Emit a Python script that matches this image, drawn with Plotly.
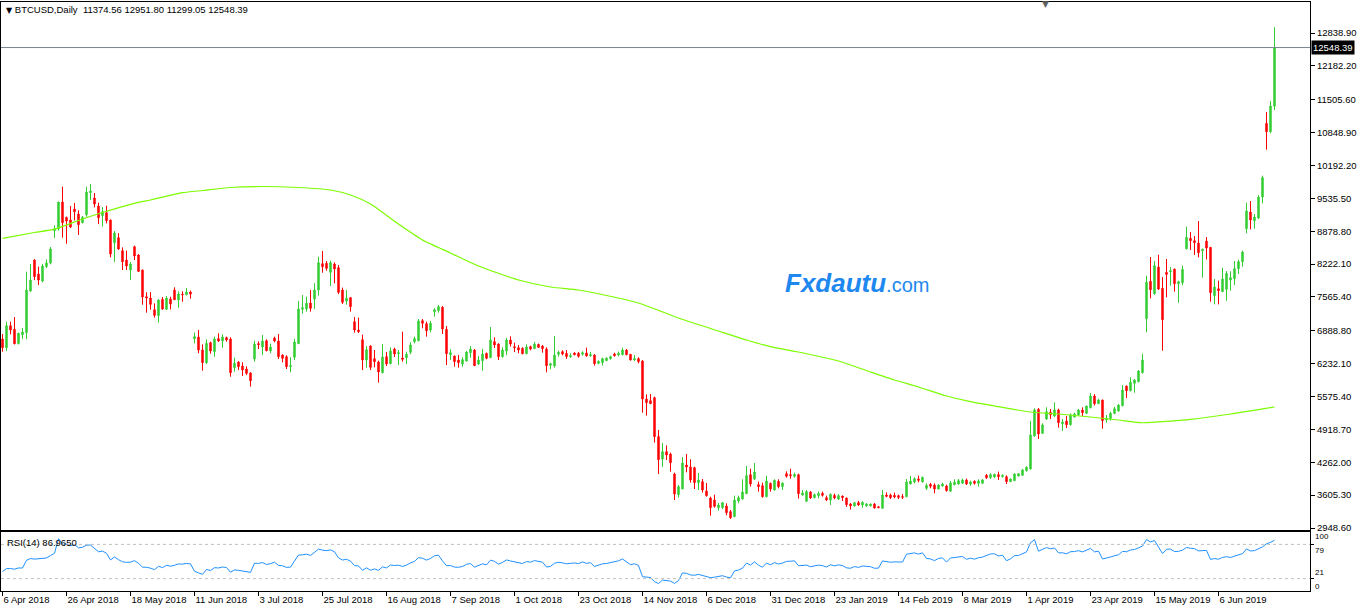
import plotly.graph_objects as go

# ---------------- data ----------------
opens = [6724, 6551, 6991, 6918, 6631, 6811, 6851, 7683, 8303, 8023, 7883, 8170, 8243, 8889, 8922, 9462, 9155, 9102, 9322, 9222,
         9049, 9209, 9648, 9542, 9382, 9189, 9249, 9102, 8649, 8749, 8489, 8303, 8103, 8569, 8403, 8103, 7570, 7544, 7310, 7191,
         7517, 7317, 7524, 7703, 7504, 7623, 7610, 7663, 6732, 6765, 6505, 6252, 6652, 6472, 6732, 6685, 6752, 6725, 6152, 6265,
         6186, 6126, 6046, 6325, 6632, 6565, 6692, 6485, 6745, 6685, 6405, 6372, 6172, 6359, 6632, 7318, 7324, 7444, 7524, 7704,
         8230, 8237, 8057, 8223, 8150, 7704, 7484, 7551, 7071, 6905, 6712, 6305, 6585, 6332, 6265, 6052, 6372, 6232, 6525, 6432,
         6345, 6352, 6459, 6672, 6692, 7091, 7031, 6905, 7271, 7291, 7358, 6918, 6412, 6385, 6305, 6225, 6285, 6452, 6505, 6225,
         6292, 6439, 6352, 6672, 6625, 6372, 6485, 6705, 6572, 6552, 6538, 6432, 6572, 6532, 6618, 6585, 6525, 6199, 6186, 6419,
         6472, 6439, 6372, 6445, 6439, 6419, 6445, 6392, 6405, 6239, 6252, 6292, 6332, 6425, 6405, 6412, 6505, 6419, 6305, 6332,
         6285, 5526, 5493, 5553, 4774, 4327, 4474, 4427, 4028, 3615, 3728, 4207, 4168, 4154, 3855, 3874, 3688, 3548, 3508, 3355,
         3355, 3388, 3275, 3175, 3488, 3528, 3635, 4014, 3928, 3815, 3795, 3575, 3841, 3708, 3881, 3775, 4034, 4014, 3981, 4014,
         3608, 3482, 3668, 3555, 3595, 3641, 3555, 3508, 3601, 3528, 3588, 3548, 3428, 3389, 3455, 3408, 3389, 3389, 3428, 3375,
         3342, 3608, 3608, 3602, 3595, 3575, 3575, 3828, 3868, 3928, 3868, 3741, 3821, 3808, 3728, 3788, 3788, 3682, 3815, 3828,
         3841, 3908, 3828, 3881, 3841, 3841, 4001, 3955, 3968, 4015, 3975, 3975, 3875, 3895, 3988, 4001, 4094, 4128, 4787, 5320,
         4840, 5127, 5260, 5187, 5307, 5033, 5086, 5013, 5166, 5206, 5306, 5239, 5352, 5586, 5432, 5506, 5106, 5133, 5239, 5286,
         5392, 5785, 5692, 5839, 5872, 6052, 7131, 7877, 7630, 8163, 7737, 8056, 8070, 8123, 7830, 7850, 8529, 8736, 8689, 8642,
         8489, 8682, 8556, 7590, 7730, 7670, 7717, 7903, 7930, 8130, 8269, 8929, 9262, 9089, 9142, 9562, 11033, 10867, 11374.56]
highs = [6824, 7071, 7071, 7164, 6851, 6944, 8070, 8223, 8316, 8170, 8223, 8316, 8563, 8995, 9462, 9768, 9169, 9382, 9442, 9295,
         9182, 9768, 9821, 9641, 9448, 9362, 9388, 9110, 8882, 8842, 8556, 8489, 8263, 8589, 8423, 8110, 7657, 7663, 7437, 7517,
         7564, 7584, 7570, 7757, 7677, 7677, 7743, 7690, 6852, 6905, 6618, 6718, 6672, 6772, 6838, 6818, 6772, 6758, 6352, 6279,
         6259, 6179, 6059, 6692, 6678, 6805, 6718, 6632, 6772, 6825, 6419, 6399, 6359, 6725, 7484, 7604, 7571, 7704, 7837, 8370,
         8483, 8283, 8290, 8257, 8203, 7751, 7704, 7564, 7165, 7151, 6812, 6585, 6598, 6505, 6292, 6625, 6465, 6558, 6552, 6505,
         6871, 6472, 6658, 6772, 7125, 7125, 7071, 7085, 7338, 7404, 7384, 6985, 6519, 6392, 6405, 6359, 6485, 6585, 6525, 6385,
         6525, 6452, 6965, 6758, 6638, 6558, 6745, 6778, 6652, 6605, 6558, 6618, 6592, 6665, 6632, 6605, 6558, 6252, 6785, 6492,
         6499, 6505, 6439, 6459, 6465, 6479, 6552, 6465, 6419, 6299, 6352, 6352, 6392, 6452, 6472, 6552, 6525, 6425, 6405, 6359,
         6305, 5619, 5626, 5573, 4907, 4647, 4600, 4454, 4054, 3808, 4367, 4427, 4321, 4174, 4048, 3928, 3848, 3575, 3615, 3448,
         3468, 3442, 3308, 3595, 3595, 3921, 4188, 4134, 4247, 3874, 3855, 3994, 3855, 3921, 3921, 3855, 4081, 4134, 4054, 4034,
         3708, 3708, 3688, 3641, 3681, 3675, 3595, 3641, 3635, 3628, 3595, 3555, 3448, 3468, 3488, 3482, 3448, 3435, 3448, 3382,
         3708, 3662, 3635, 3655, 3615, 3628, 3928, 3988, 3961, 3995, 3975, 3841, 3848, 3841, 3821, 3855, 3815, 3888, 3921, 3928,
         3935, 3935, 3895, 3901, 3921, 3928, 4028, 4041, 4035, 4074, 4021, 4001, 3935, 4041, 4041, 4128, 4181, 5087, 5340, 5347,
         5040, 5360, 5327, 5460, 5333, 5126, 5186, 5239, 5253, 5326, 5359, 5392, 5645, 5625, 5532, 5510, 5206, 5272, 5372, 5426,
         5805, 5792, 5958, 5925, 6105, 6431, 7990, 8363, 8283, 8409, 7963, 8323, 8163, 8130, 7890, 8190, 8969, 8862, 8782, 9082,
         8529, 8762, 8560, 7923, 7890, 8150, 8083, 8076, 8283, 8309, 8489, 9448, 9482, 9222, 9601, 9988, 11260, 11480, 12951.80]
lows = [6471, 6485, 6818, 6618, 6618, 6724, 6724, 7670, 7903, 7803, 7857, 8143, 8216, 8742, 8889, 8749, 8629, 8942, 9095, 8802,
        9035, 9169, 9502, 9355, 9022, 8969, 9035, 8356, 8263, 8509, 8103, 8103, 7903, 8303, 8063, 7410, 7251, 7310, 7151, 7051,
        7310, 7304, 7317, 7504, 7350, 7470, 7597, 7530, 6638, 6439, 6092, 6225, 6432, 6372, 6665, 6552, 6672, 5972, 6072, 6106,
        5986, 6006, 5773, 6272, 6525, 6405, 6479, 6439, 6658, 6325, 6259, 6126, 6059, 6305, 6632, 7231, 7271, 7271, 7324, 7591,
        8050, 8090, 7784, 7837, 7624, 7424, 7411, 7271, 6852, 6845, 6106, 6152, 6106, 6159, 5853, 6039, 6186, 6219, 6365, 6205,
        6272, 6225, 6419, 6638, 6678, 6938, 6772, 6858, 7171, 7251, 6825, 6205, 6305, 6172, 6152, 6172, 6272, 6352, 6192, 6205,
        6092, 6319, 6352, 6545, 6305, 6352, 6405, 6572, 6465, 6439, 6419, 6419, 6499, 6525, 6552, 6452, 6059, 6119, 6152, 6372,
        6399, 6325, 6345, 6399, 6352, 6392, 6372, 6365, 6192, 6219, 6192, 6292, 6312, 6372, 6379, 6399, 6399, 6299, 6285, 6239,
        5253, 5193, 5426, 4654, 4028, 4168, 4307, 4074, 3508, 3555, 3728, 4061, 3855, 3728, 3708, 3655, 3575, 3195, 3355, 3295,
        3328, 3202, 3129, 3175, 3442, 3515, 3628, 3775, 3908, 3675, 3555, 3561, 3675, 3695, 3741, 3708, 3954, 3934, 3954, 3535,
        3595, 3475, 3528, 3541, 3541, 3575, 3488, 3408, 3522, 3508, 3488, 3369, 3315, 3375, 3389, 3355, 3369, 3382, 3335, 3355,
        3342, 3562, 3528, 3542, 3528, 3528, 3562, 3821, 3841, 3861, 3861, 3708, 3741, 3642, 3722, 3775, 3675, 3668, 3801, 3815,
        3828, 3808, 3788, 3815, 3775, 3835, 3928, 3928, 3955, 3908, 3955, 3828, 3870, 3890, 3981, 3988, 4074, 4120, 4774, 4727,
        4827, 5107, 5127, 5167, 4954, 4886, 4946, 4993, 5159, 5193, 5186, 5226, 5339, 5399, 5426, 4933, 5053, 5093, 5219, 5272,
        5379, 5546, 5679, 5652, 5859, 6038, 6858, 7537, 7610, 7703, 6491, 7557, 7790, 7670, 7450, 7797, 8516, 8503, 8403, 8356,
        7950, 8316, 7470, 7417, 7417, 7663, 7490, 7690, 7803, 8023, 8170, 8836, 8916, 8929, 9122, 9435, 10507, 10834, 11299.05]
closes = [6551, 6991, 6904, 6631, 6838, 6864, 7703, 7903, 7970, 7903, 8183, 8243, 8523, 8922, 9462, 9049, 9082, 8962, 9268, 9009,
          9155, 9661, 9681, 9422, 9149, 9268, 9089, 8423, 8842, 8523, 8269, 8183, 8223, 8383, 8076, 7564, 7544, 7417, 7197, 7504,
          7324, 7544, 7424, 7510, 7623, 7610, 7663, 7623, 6772, 6505, 6252, 6638, 6485, 6725, 6685, 6765, 6705, 6052, 6239, 6172,
          6106, 6039, 5892, 6625, 6612, 6685, 6492, 6565, 6685, 6372, 6339, 6172, 6192, 6665, 7324, 7351, 7438, 7338, 7704, 8250,
          8170, 8137, 8250, 8124, 7657, 7458, 7537, 7371, 6905, 6871, 6305, 6512, 6159, 6272, 6066, 6365, 6225, 6485, 6425, 6452,
          6319, 6419, 6605, 6732, 7085, 7038, 6891, 7038, 7311, 7371, 6925, 6432, 6452, 6272, 6252, 6312, 6465, 6525, 6192, 6305,
          6425, 6339, 6705, 6605, 6372, 6505, 6705, 6625, 6552, 6505, 6432, 6565, 6525, 6625, 6558, 6532, 6192, 6232, 6405, 6459,
          6425, 6372, 6392, 6412, 6379, 6452, 6385, 6412, 6232, 6279, 6332, 6345, 6372, 6392, 6439, 6505, 6412, 6305, 6332, 6272,
          5526, 5453, 5433, 4774, 4314, 4474, 4407, 4254, 3628, 3775, 4247, 4168, 3908, 3855, 3908, 3708, 3595, 3355, 3382, 3408,
          3455, 3255, 3155, 3508, 3555, 3668, 3994, 3828, 4068, 3775, 3575, 3888, 3728, 3901, 3775, 3848, 3981, 3994, 4021, 3635,
          3648, 3675, 3548, 3615, 3641, 3601, 3508, 3621, 3548, 3595, 3555, 3415, 3389, 3455, 3408, 3462, 3428, 3428, 3349, 3355,
          3608, 3582, 3555, 3568, 3562, 3562, 3868, 3888, 3935, 3901, 3961, 3801, 3781, 3728, 3808, 3828, 3695, 3848, 3861, 3895,
          3908, 3828, 3868, 3841, 3888, 3908, 3955, 4015, 4021, 3975, 4001, 3875, 3928, 4028, 4035, 4108, 4161, 4807, 5307, 4827,
          5007, 5273, 5213, 5307, 5054, 5066, 5013, 5206, 5226, 5306, 5253, 5386, 5586, 5432, 5506, 5093, 5139, 5239, 5332, 5406,
          5705, 5692, 5859, 5905, 6085, 6305, 7857, 7710, 8190, 7723, 7111, 8016, 8090, 7830, 7870, 8116, 8756, 8689, 8649, 8449,
          8516, 8543, 7650, 7763, 7690, 7923, 8036, 7950, 8130, 8269, 8463, 9282, 9102, 9162, 9562, 9948, 10867, 11380, 12548.39]

# moving average (green line) read at sample bars
ma_bars = [0, 8, 13, 20, 25, 33, 37, 45, 50, 57, 65, 74, 82, 87, 92, 99, 105, 112, 119, 129, 137, 144, 151, 159, 169,
           179, 186, 192, 199, 209, 217, 223, 229, 236, 242, 249, 257, 264, 272, 279, 285, 292, 297, 307, 318]
ma_values = [8737, 8853, 8919, 9122, 9252, 9436, 9502, 9648, 9692, 9752, 9772, 9752, 9702, 9602, 9422, 9022, 8703, 8443,
             8183, 7904, 7764, 7704, 7594, 7444, 7144, 6884, 6705, 6571, 6465, 6285, 6066, 5906, 5766, 5586, 5472, 5372,
             5266, 5226, 5166, 5106, 5052, 5086, 5120, 5226, 5366]

# RSI of the first bars (read), the rest is RSI(14) of the closes
rsi_head = [33, 38, 38, 37, 39, 39, 52, 55, 54, 55, 55, 56, 60, 64]
rsi_period = 14

date_labels = ["6 Apr 2018", "26 Apr 2018", "18 May 2018", "11 Jun 2018", "3 Jul 2018", "25 Jul 2018",
               "16 Aug 2018", "7 Sep 2018", "1 Oct 2018", "23 Oct 2018", "14 Nov 2018", "6 Dec 2018",
               "31 Dec 2018", "23 Jan 2019", "14 Feb 2019", "8 Mar 2019", "1 Apr 2019", "23 Apr 2019",
               "15 May 2019", "6 Jun 2019"]
bars_per_label = 16

price_ticks = [2948.60, 3605.30, 4262.00, 4918.70, 5575.40, 6232.10, 6888.80, 7565.40, 8222.10,
               8878.80, 9535.50, 10192.20, 10848.90, 11505.60, 12182.20, 12838.90]
rsi_levels = [21, 79]
rsi_scale_ends = [0, 100]
last_price = closes[-1]
header_text = "BTCUSD,Daily\u00a0\u00a011374.56 12951.80 11299.05 12548.39"
rsi_text = "RSI(14) 86.9650"

# ---------------- derived ----------------
n = len(closes)
bar_index = list(range(n))


def wilder_rsi(c, period):
    gains = [max(c[i] - c[i - 1], 0) for i in range(1, len(c))]
    losses = [max(c[i - 1] - c[i], 0) for i in range(1, len(c))]
    ag = sum(gains[:period]) / period
    al = sum(losses[:period]) / period
    out = {period: 100 - 100 / (1 + ag / al)}
    for i in range(period + 1, len(c)):
        ag = (ag * (period - 1) + gains[i - 1]) / period
        al = (al * (period - 1) + losses[i - 1]) / period
        out[i] = 100.0 if al == 0 else 100 - 100 / (1 + ag / al)
    return out


rsi_calc = wilder_rsi(closes, rsi_period)
rsi = rsi_head + [rsi_calc[i] for i in range(rsi_period, n)]

# ---------------- figure ----------------
W, H = 1362, 611
ML, MR, MT, MB = 1, 52, 2, 20
plot_h = H - MT - MB
main_bottom_px, rsi_top_px = 530, 532
main_dom = [(H - MB - main_bottom_px) / plot_h, 1]
rsi_dom = [0, (H - MB - rsi_top_px) / plot_h]

GREEN = "#32CD32"
RED = "#FF0000"
FONT = "Liberation Sans"

fig = go.Figure()
fig.add_trace(go.Candlestick(
    x=bar_index, open=opens, high=highs, low=lows, close=closes,
    increasing=dict(line=dict(color=GREEN, width=1), fillcolor=GREEN),
    decreasing=dict(line=dict(color=RED, width=1), fillcolor=RED),
    whiskerwidth=0, showlegend=False, hoverinfo="skip", xaxis="x", yaxis="y"))
fig.add_trace(go.Scatter(
    x=ma_bars, y=ma_values, mode="lines", line=dict(color="#7CFC00", width=1.2, shape="spline", smoothing=0.6),
    showlegend=False, hoverinfo="skip", xaxis="x", yaxis="y"))
fig.add_trace(go.Scatter(
    x=bar_index, y=rsi, mode="lines", line=dict(color="#1E90FF", width=1),
    showlegend=False, hoverinfo="skip", xaxis="x2", yaxis="y2"))

px_per_bar = 4
x_first = -1.5 / px_per_bar
x_range = [x_first, x_first + (W - ML - MR) / px_per_bar]
tick_positions = [i * bars_per_label for i in range(len(date_labels))]

price_per_px = (12838.90 - 2948.60) / (528 - 33)
y_top = 12838.90 + (33 - MT) * price_per_px
y_bot = 12838.90 - (main_bottom_px - 33) * price_per_px

axis_common = dict(showgrid=False, zeroline=False, showline=True, linecolor="black", linewidth=1, mirror=True)

fig.update_layout(
    width=W, height=H, margin=dict(l=ML, r=MR, t=MT, b=MB, pad=0),
    paper_bgcolor="white", plot_bgcolor="white", boxgap=0.5,
    font=dict(family=FONT, size=10, color="black"),
    xaxis=dict(domain=[0, 1], anchor="y", range=x_range, showticklabels=False, ticks="",
               rangeslider=dict(visible=False), **axis_common),
    yaxis=dict(domain=main_dom, anchor="x", side="right", range=[y_bot, y_top],
               tickvals=price_ticks, ticktext=[f"{v:.2f}" for v in price_ticks],
               ticks="outside", ticklen=4, tickcolor="black", tickfont=dict(size=9.5, family=FONT),
               **axis_common),
    xaxis2=dict(domain=[0, 1], anchor="y2", matches="x", range=x_range,
                tickvals=tick_positions, ticktext=date_labels, ticks="outside", ticklen=4, tickcolor="black",
                ticklabelposition="outside right", tickfont=dict(size=9.5, family=FONT),
                rangeslider=dict(visible=False), **axis_common),
    yaxis2=dict(domain=rsi_dom, anchor="x2", side="right", range=rsi_scale_ends,
                tickvals=rsi_levels, ticktext=["", ""], ticks="outside", ticklen=3, tickcolor="black",
                **axis_common),
)

shapes = [dict(type="line", xref="paper", x0=0, x1=1, yref="y", y0=last_price, y1=last_price,
               line=dict(color="#7a8590", width=1))]
for lv in rsi_levels:
    shapes.append(dict(type="line", xref="paper", x0=0, x1=1, yref="y2", y0=lv, y1=lv,
                       line=dict(color="#c0c0c0", width=1, dash="3px,3px")))
fig.update_layout(shapes=shapes)


def px_x(p):
    return (p - ML) / (W - ML - MR)


def px_y(p):
    return (H - MB - p) / plot_h


rsi_font = dict(size=8, family=FONT, color="black")
annotations = [
    dict(xref="paper", yref="y", x=1, y=last_price, xanchor="left", yanchor="middle", xshift=1,
         text=f"{last_price:.2f}", showarrow=False, bgcolor="black", borderpad=1,
         font=dict(color="white", size=9.5, family=FONT)),
    dict(xref="paper", yref="paper", x=px_x(4), y=px_y(9), xanchor="left", yanchor="middle",
         text="<span style='font-size:8px;font-family:DejaVu Sans'>\u25bc</span>\u00a0" + header_text,
         showarrow=False, font=dict(size=9.5, family=FONT, color="black")),
    dict(xref="paper", yref="paper", x=px_x(5), y=px_y(542), xanchor="left", yanchor="middle",
         text=rsi_text, showarrow=False, font=dict(size=9.5, family=FONT, color="black")),
    dict(xref="paper", yref="paper", x=px_x(857), y=px_y(283), xanchor="center", yanchor="middle",
         text="<b><i>Fxdautu</i></b><span style='font-size:20px'>.com</span>", showarrow=False,
         font=dict(size=26, family=FONT, color="#1E88F0")),
    dict(xref="paper", yref="paper", x=px_x(1045), y=px_y(4), xanchor="center", yanchor="middle",
         text="\u25bc", showarrow=False, font=dict(size=9, family="DejaVu Sans", color="#606060")),
    # RSI scale labels (the reference squeezes them next to each other)
    dict(xref="paper", yref="y2", x=1, y=rsi_scale_ends[1], xanchor="left", yanchor="top", xshift=4, yshift=1,
         text=str(rsi_scale_ends[1]), showarrow=False, font=rsi_font, borderpad=0),
    dict(xref="paper", yref="y2", x=1, y=rsi_levels[1], xanchor="left", yanchor="top", xshift=4, yshift=-1,
         text=str(rsi_levels[1]), showarrow=False, font=rsi_font, borderpad=0),
    dict(xref="paper", yref="y2", x=1, y=rsi_levels[0], xanchor="left", yanchor="bottom", xshift=4, yshift=1,
         text=str(rsi_levels[0]), showarrow=False, font=rsi_font, borderpad=0),
    dict(xref="paper", yref="y2", x=1, y=rsi_scale_ends[0], xanchor="left", yanchor="bottom", xshift=4, yshift=-1,
         text=str(rsi_scale_ends[0]), showarrow=False, font=rsi_font, borderpad=0),
]
fig.update_layout(annotations=annotations)

fig.write_html("out.html", config={"displayModeBar": False})
with open("out.html", "r", encoding="utf-8") as f:
    html = f.read()
html = html.replace("<head>", "<head><style>html,body{margin:0;padding:0;overflow:hidden;}</style>", 1)
with open("out.html", "w", encoding="utf-8") as f:
    f.write(html)
